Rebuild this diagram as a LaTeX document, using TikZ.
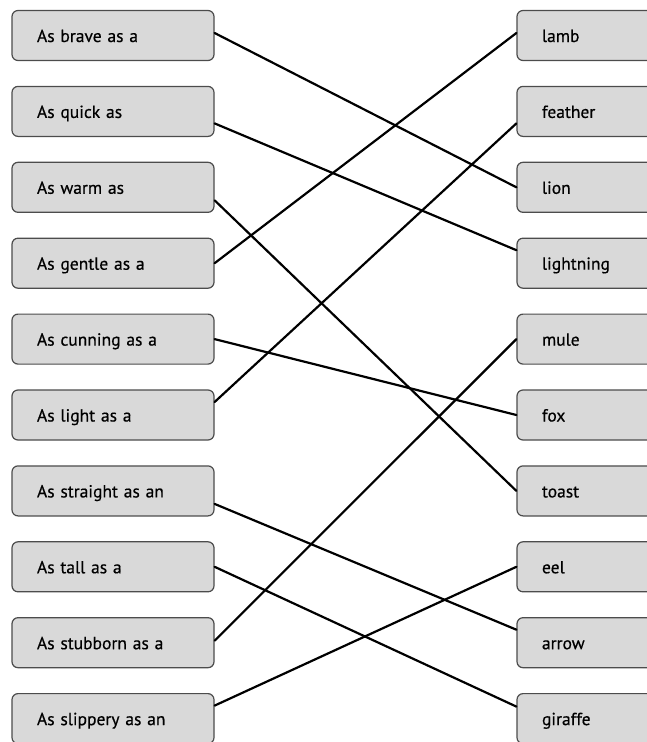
\documentclass[tikz,border=0pt]{standalone}
\usepackage{fontspec}
\setmainfont{PT Sans}
\usepackage{tikz}
\tikzset{
  phrase box/.style={
    draw=black!70,
    fill=gray!30,
    line width=1.2pt,
    rounded corners=6pt,
    minimum height=50pt,
    text height=13pt,
    text depth=0pt,
    inner xsep=25pt,
    align=left,
    font=\fontsize{17.5}{21}\selectfont\addfontfeature{FakeBold=0.5}
  },
  left box/.style={
    phrase box,
    text width=152pt
  },
  right box/.style={
    phrase box,
    text width=110pt
  },
  match line/.style={
    line width=2.2pt,
    color=black,
    line cap=round
  }
}

\begin{document}
\begin{tikzpicture}[x=1pt, y=-1pt]
    % 1 unit = 1 pixel of the sheet, y grows downwards
    \useasboundingbox (0,0) rectangle (647,742);

    % left column: the phrases
    \foreach \t [count=\i] in {As brave as a, As quick as, As warm as, As gentle as a,
      As cunning as a, As light as a, As straight as an, As tall as a,
      As stubborn as a, As slippery as an} {
      \node[left box] (l\i) at (113, {35.5+75.9*(\i-1)}) {\t};
    }

    % right column: the answers (cut off at the right edge)
    \foreach \t [count=\i] in {lamb, feather, lion, lightning, mule, fox,
      toast, eel, arrow, giraffe} {
      \node[right box] (r\i) at (597, {35.5+75.9*(\i-1)}) {\t};
    }

    % matching lines
    \draw[match line] ([yshift=2.5pt]l1.east) -- (r3.west);            % brave - lion
    \draw[match line] ([yshift=-12pt]l2.east) -- ([yshift=13pt]r4.west); % quick - lightning
    \draw[match line] ([yshift=-13pt]l3.east) -- (r7.west);            % warm - toast
    \draw[match line] (l4.east) -- ([yshift=2.5pt]r1.west);            % gentle - lamb
    \draw[match line] (l5.east) -- (r6.west);                          % cunning - fox
    \draw[match line] ([yshift=13pt]l6.east) -- ([yshift=-12pt]r2.west); % light - feather
    \draw[match line] ([yshift=-13pt]l7.east) -- ([yshift=13pt]r9.west); % straight - arrow
    \draw[match line] (l8.east) -- ([yshift=12pt]r10.west);            % tall - giraffe
    \draw[match line] ([yshift=2pt]l9.east) -- (r5.west);              % stubborn - mule
    \draw[match line] ([yshift=13pt]l10.east) -- (r8.west);            % slippery - eel

  \end{tikzpicture}
\end{document}
